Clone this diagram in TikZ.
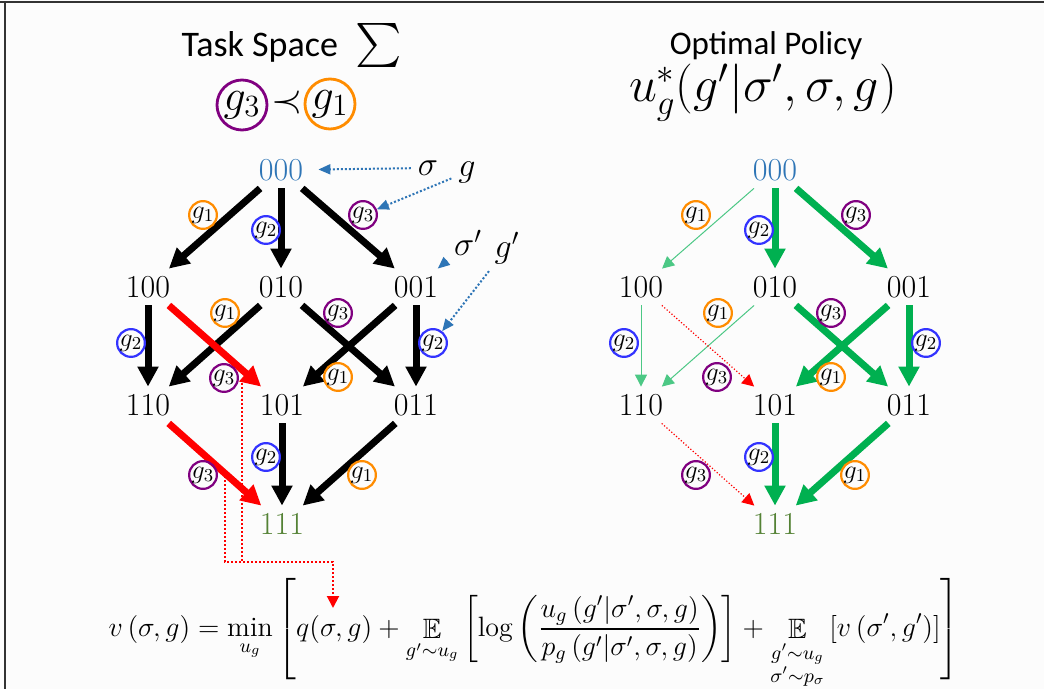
\RequirePackage{fix-cm}
\documentclass[tikz,border=0pt]{standalone}
\usepackage{amsmath,amssymb}
\usepackage{fontspec}
\newfontfamily\calibri{Carlito}
\usetikzlibrary{arrows.meta,positioning}

\definecolor{bitblue}{RGB}{46,117,182}
\definecolor{bitgreen}{RGB}{84,130,53}
\definecolor{polgreen}{RGB}{0,176,80}
\definecolor{gorange}{RGB}{255,140,0}
\definecolor{gblue}{RGB}{51,51,255}
\definecolor{gpurple}{RGB}{128,0,128}
\definecolor{paper}{RGB}{252,252,252}

\tikzset{
  bits/.style={inner sep=0pt,minimum width=25pt,minimum height=18pt,font=\fontsize{16}{16}\selectfont},
  glab/.style={circle,draw,line width=1.1pt,inner sep=0pt,minimum size=12.5pt,font=\fontsize{13}{13}\selectfont},
  bigring/.style={circle,draw,line width=1.4pt,inner sep=0pt,minimum size=25pt,font=\fontsize{22}{22}\selectfont},
  sym/.style={font=\fontsize{17}{17}\selectfont},
  hard/.style={line width=3.5pt,-{Triangle[length=10pt,width=10pt]}},
  weak/.style={polgreen!70,line width=0.5pt,-{Triangle[length=6pt,width=6pt]}},
  drop/.style={red,line width=0.6pt,densely dotted,-{Triangle[length=6pt,width=6pt]}},
  note/.style={bitblue,line width=1pt,densely dotted,-{Triangle[length=6pt,width=5pt]}},
  link/.style={red,line width=1pt,densely dotted},
}

\begin{document}
\begin{tikzpicture}[x=0.5pt,y=-0.5pt]
\fill[paper] (0,0) rectangle (1044,689);
\useasboundingbox (0,0) rectangle (1044,689);
\draw[black!80,line width=1pt] (0,2) -- (1044,2);
\draw[black!80,line width=1pt] (5,2) -- (5,689);

% Titles
\node[font=\calibri\fontsize{18}{18}\selectfont,anchor=base] (tasktitle) at (292,57) {Task Space\hspace{0.5em}{\fontsize{22}{22}\selectfont$\sum$}};
\node[bigring,draw=gpurple] (bigthree) at (242,105) {$g_3$};
\node[font=\fontsize{20}{20}\selectfont] (prec) at (287,103) {$\prec$};
\node[bigring,draw=gorange] (bigone) at (330,104) {$g_1$};
\node[font=\calibri\fontsize{16.5}{16.5}\selectfont,anchor=base] (poltitle) at (766,55) {Optimal Policy};
\node[font=\fontsize{25}{25}\selectfont,anchor=base] (polform) at (763,102) {$u_g^*(g'|\sigma',\sigma,g)$};

% Task space lattice
\node[bits,text=bitblue] (a000) at (281,170) {000};
\node[bits] (a100) at (148,287) {100};
\node[bits] (a010) at (281,287) {010};
\node[bits] (a001) at (416,287) {001};
\node[bits] (a110) at (148,405) {110};
\node[bits] (a101) at (282,405) {101};
\node[bits] (a011) at (416,405) {011};
\node[bits,text=bitgreen] (a111) at (282,524) {111};

\draw[hard] (a000) -- (a100);
\draw[hard] (a000) -- (a010);
\draw[hard] (a000) -- (a001);
\draw[hard] (a100) -- (a110);
\draw[hard] (a010) -- (a110);
\draw[hard] (a010) -- (a011);
\draw[hard] (a001) -- (a101);
\draw[hard] (a001) -- (a011);
\draw[hard,red] (a100) -- (a101);
\draw[hard,red] (a110) -- (a111);
\draw[hard] (a101) -- (a111);
\draw[hard] (a011) -- (a111);

\node[glab,draw=gorange] (la1) at (203,215) {$g_1$};
\node[glab,draw=gblue] (la2) at (266,230) {$g_2$};
\node[glab,draw=gpurple] (la3) at (363,215) {$g_3$};
\node[glab,draw=gblue] (la4) at (131,343) {$g_2$};
\node[glab,draw=gorange] (la5) at (225,313) {$g_1$};
\node[glab,draw=gpurple] (la6) at (338,313) {$g_3$};
\node[glab,draw=gpurple] (la7) at (224,378) {$g_3$};
\node[glab,draw=gorange] (la8) at (338,377) {$g_1$};
\node[glab,draw=gblue] (la9) at (433,343) {$g_2$};
\node[glab,draw=gpurple] (la10) at (203,475) {$g_3$};
\node[glab,draw=gblue] (la11) at (266,457) {$g_2$};
\node[glab,draw=gorange] (la12) at (362,475) {$g_1$};

% Pointers to the state and goal
\node[sym] (sig) at (428,168) {$\sigma$};
\node[sym] (gg) at (467,172) {$g$};
\node[sym] (sigp) at (468,243) {$\sigma'$};
\node[sym] (gp) at (507,248) {$g'$};
\draw[note,shorten >=6pt] (sig) -- (a000);
\draw[note] (gg) -- (la3);
\draw[note] (sigp) -- (a001);
\draw[note] (gp) -- (la9);

% Optimal policy lattice
\node[bits,text=bitblue] (b000) at (775,170) {000};
\node[bits] (b100) at (641,287) {100};
\node[bits] (b010) at (775,287) {010};
\node[bits] (b001) at (909,287) {001};
\node[bits] (b110) at (641,405) {110};
\node[bits] (b101) at (775,405) {101};
\node[bits] (b011) at (909,405) {011};
\node[bits,text=bitgreen] (b111) at (775,524) {111};

\draw[weak] (b000) -- (b100);
\draw[hard,polgreen] (b000) -- (b010);
\draw[hard,polgreen] (b000) -- (b001);
\draw[weak] (b100) -- (b110);
\draw[weak] (b010) -- (b110);
\draw[hard,polgreen] (b010) -- (b011);
\draw[hard,polgreen] (b001) -- (b101);
\draw[hard,polgreen] (b001) -- (b011);
\draw[drop] (b100) -- (b101);
\draw[drop] (b110) -- (b111);
\draw[hard,polgreen] (b101) -- (b111);
\draw[hard,polgreen] (b011) -- (b111);

\node[glab,draw=gorange] (lb1) at (696,215) {$g_1$};
\node[glab,draw=gblue] (lb2) at (759,230) {$g_2$};
\node[glab,draw=gpurple] (lb3) at (856,215) {$g_3$};
\node[glab,draw=gblue] (lb4) at (624,343) {$g_2$};
\node[glab,draw=gorange] (lb5) at (718,313) {$g_1$};
\node[glab,draw=gpurple] (lb6) at (831,313) {$g_3$};
\node[glab,draw=gpurple] (lb7) at (717,377) {$g_3$};
\node[glab,draw=gorange] (lb8) at (831,377) {$g_1$};
\node[glab,draw=gblue] (lb9) at (926,343) {$g_2$};
\node[glab,draw=gpurple] (lb10) at (696,475) {$g_3$};
\node[glab,draw=gblue] (lb11) at (759,457) {$g_2$};
\node[glab,draw=gorange] (lb12) at (855,475) {$g_1$};

% Value recursion
\node[font=\fontsize{14}{16}\selectfont] (bellman) at (534,634) {\delimiterfactor=800 \delimitershortfall=12pt$\displaystyle
  v\left(\sigma,g\right)=\min_{u_g}\left[q(\sigma,g)+\mathop{\mathbb{E}}_{g'\sim u_g}\left[\log\left(\frac{u_g\left(g'|\sigma',\sigma,g\right)}{p_g\left(g'|\sigma',\sigma,g\right)}\right)\right]+\mathop{\mathbb{E}}_{\substack{g'\sim u_g\\ \sigma'\sim p_\sigma}}\left[v\left(\sigma',g'\right)\right]\right]$};

\coordinate (r1) at (242,379);
\coordinate (r2) at (225,476);
\coordinate (bend) at (333,562);
\coordinate (qtip) at (333,608);
\draw[link,-{Triangle[length=6pt,width=6pt]}] (r1) |- (bend) -- (qtip);
\draw[link] (r2) |- (r1 |- bend);
\end{tikzpicture}
\end{document}
